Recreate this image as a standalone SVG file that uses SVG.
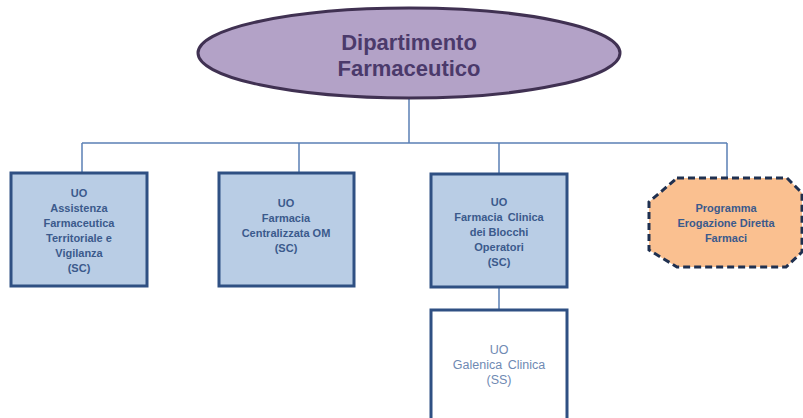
<svg xmlns="http://www.w3.org/2000/svg" width="803" height="418" viewBox="0 0 803 418">
<style>
.conn{stroke:#5a7fb5;stroke-width:1.5;fill:none}
.box{fill:#b9cde5;stroke:#2f5083;stroke-width:3}
.t{font-family:"Liberation Sans",Arial,sans-serif;font-weight:bold;font-size:11px;fill:#3b5a8c;text-anchor:middle}
.tl{font-family:"Liberation Sans",Arial,sans-serif;font-size:12.5px;fill:#6f8ab3;text-anchor:middle}
.title{font-family:"Liberation Sans",Arial,sans-serif;font-weight:bold;font-size:22px;fill:#4b3a6b;text-anchor:middle}
</style>
<rect width="803" height="418" fill="#ffffff"/>
<g id="connectors">
<line class="conn" x1="409" y1="98" x2="409" y2="143"/>
<line class="conn" x1="82" y1="143" x2="727" y2="143"/>
<line class="conn" x1="82" y1="143" x2="82" y2="173"/>
<line class="conn" x1="299" y1="143" x2="299" y2="173"/>
<line class="conn" x1="499" y1="143" x2="499" y2="174"/>
<line class="conn" x1="727" y1="143" x2="727" y2="178"/>
<line class="conn" x1="499" y1="287" x2="499" y2="310"/>
</g>
<g id="dept">
<ellipse cx="409" cy="53" rx="211" ry="45" fill="#b3a2c7" stroke="#403152" stroke-width="3"/>
<text class="title" x="409" y="50">Dipartimento</text>
<text class="title" x="409" y="76">Farmaceutico</text>
</g>
<g id="uo1">
<rect class="box" x="11" y="173" width="136" height="113"/>
<text class="t" x="79" y="197">UO</text>
<text class="t" x="79" y="212">Assistenza</text>
<text class="t" x="79" y="227">Farmaceutica</text>
<text class="t" x="79" y="242">Territoriale e</text>
<text class="t" x="79" y="257">Vigilanza</text>
<text class="t" x="79" y="272">(SC)</text>
</g>
<g id="uo2">
<rect class="box" x="219" y="173" width="135" height="113"/>
<text class="t" x="286" y="207">UO</text>
<text class="t" x="286" y="222">Farmacia</text>
<text class="t" x="286" y="237">Centralizzata OM</text>
<text class="t" x="286" y="252">(SC)</text>
</g>
<g id="uo3">
<rect class="box" x="431" y="174" width="136" height="113"/>
<text class="t" x="499" y="206">UO</text>
<text class="t" x="499" y="221" word-spacing="2">Farmacia Clinica</text>
<text class="t" x="499" y="236">dei Blocchi</text>
<text class="t" x="499" y="251">Operatori</text>
<text class="t" x="499" y="266">(SC)</text>
</g>
<g id="programma">
<polygon points="677,178 787,178 802,193 802,252 786,267 677,267 649,250 649,202" fill="#fac090" stroke="#1f3050" stroke-width="3" stroke-dasharray="7,4"/>
<text class="t" x="726" y="212">Programma</text>
<text class="t" x="726" y="227">Erogazione Diretta</text>
<text class="t" x="726" y="242">Farmaci</text>
</g>
<g id="uo4">
<rect x="431" y="310" width="136" height="120" fill="#ffffff" stroke="#2f5083" stroke-width="3"/>
<text class="tl" x="499" y="354">UO</text>
<text class="tl" x="499" y="369" word-spacing="2">Galenica Clinica</text>
<text class="tl" x="499" y="384">(SS)</text>
</g>
</svg>
